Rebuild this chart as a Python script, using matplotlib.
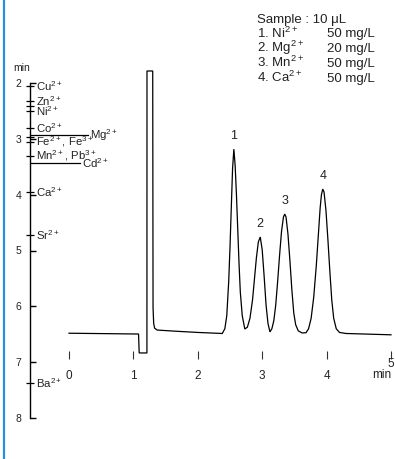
import matplotlib
matplotlib.use("Agg")
import matplotlib.pyplot as plt
from matplotlib.lines import Line2D
import matplotlib.transforms as mtransforms

plt.rcParams['font.family'] = ['Liberation Sans', 'DejaVu Sans']
plt.rcParams['mathtext.default'] = 'regular'

# chromatogram trace (time in min, signal in arbitrary units)
time = [0.00, 1.08, 1.09, 1.21, 1.211, 1.30, 1.305, 1.315, 1.33, 1.37, 1.70, 2.00, 2.38,
        2.42, 2.45, 2.48, 2.50, 2.52, 2.54, 2.56, 2.58, 2.60, 2.62, 2.64, 2.66, 2.69, 2.73,
        2.77, 2.81, 2.85, 2.88, 2.91, 2.94, 2.97, 3.00, 3.03, 3.06, 3.09, 3.12,
        3.15, 3.18, 3.21, 3.24, 3.27, 3.30, 3.33, 3.35, 3.37, 3.40, 3.43, 3.46, 3.49, 3.52,
        3.56, 3.62, 3.68,
        3.72, 3.76, 3.80, 3.84, 3.87, 3.90, 3.92, 3.94, 3.96, 3.99, 4.02, 4.05, 4.08, 4.11,
        4.15, 4.20, 4.30, 5.00]
signal = [0.3, 0.0, -7.2, -7.2, 100, 100, 10, 4, 2.2, 1.5, 1.0, 0.6, 0.2,
          2, 7, 20, 33, 48, 63, 70.3, 64, 53, 40, 27, 16, 7, 1.9,
          2.6, 6, 13, 21, 29, 35, 36.9, 32, 22, 11, 4, 0.8,
          2, 5, 11, 20, 30, 39, 44.5, 45.6, 44.5, 38, 28, 17, 8, 3.5,
          1.2, 0.4, 0.5,
          2, 6, 14, 26, 37, 48, 53, 55.1, 54, 47, 36, 24, 13, 6,
          2, 0.6, 0.2, -0.3]

peak_num = ["1", "2", "3", "4"]
peak_t = [2.56, 2.97, 3.35, 3.94]
peak_h = [70.3, 36.9, 45.6, 55.1]

# elution positions of ions (min)
ion_names = ["Cu$^{2+}$", "Zn$^{2+}$", "Ni$^{2+}$", "Co$^{2+}$", "Fe$^{2+}$, Fe$^{3+}$",
             "Mn$^{2+}$, Pb$^{3+}$", "Ca$^{2+}$", "Sr$^{2+}$", "Ba$^{2+}$"]
ion_t = [2.05, 2.33, 2.5, 2.8, 3.05, 3.3, 3.95, 4.72, 7.38]
extra_ticks = [2.42, 2.97]
long_names = ["Mg$^{2+}$", "Cd$^{2+}$"]
long_t = [2.93, 3.43]
long_len = [0.58, 0.50]

sample_ions = ["Ni", "Mg", "Mn", "Ca"]
sample_conc = ["50 mg/L", "20 mg/L", "50 mg/L", "50 mg/L"]

W, H = 395, 459
fig = plt.figure(figsize=(W / 100, H / 100), dpi=100)
txt = "#222222"

# chromatogram
ax = fig.add_axes([69 / W, 1 - 359 / H, 322 / W, 288 / H])
ax.plot(time, signal, color="black", lw=0.9, clip_on=False, solid_joinstyle="miter")
ax.set_xlim(0, 5)
ax.set_ylim(-9.5, 100)
for s in ax.spines.values():
    s.set_visible(False)
ax.set_yticks([])
ax.set_xticks(range(6))
ax.set_xticklabels(["0", "1", "2", "3", "4", ""])
ax.tick_params(axis="x", direction="in", length=6, width=0.8, color="#333333",
               labelsize=8.5, labelcolor=txt, pad=8)
tr = mtransforms.blended_transform_factory(ax.transData, fig.transFigure)
ax.text(5, 1 - 364 / H, "5", transform=tr, ha="center", va="center", fontsize=8.5, color=txt)
ax.text(5, 1 - 375 / H, "min", transform=tr, ha="right", va="center", fontsize=8.5, color=txt)
for n, t, h in zip(peak_num, peak_t, peak_h):
    ax.annotate(n, (t, h), xytext=(0, 7), textcoords="offset points",
                ha="center", va="baseline", fontsize=9, color=txt)

# elution scale on the left
ax2 = fig.add_axes([30 / W, 1 - 418 / H, 100 / W, 335 / H])
ax2.set_ylim(8, 2)
ax2.set_xlim(0, 1)
ax2.patch.set_alpha(0)
for k in ["top", "right", "bottom"]:
    ax2.spines[k].set_visible(False)
ax2.spines["left"].set_linewidth(1.0)
ax2.set_xticks([])
ax2.set_yticks(range(2, 9))
ax2.set_yticks(ion_t + extra_ticks, minor=True)
ax2.tick_params(axis="y", which="major", direction="in", length=4, width=1.0,
                labelsize=7.5, labelcolor=txt, pad=6)
ax2.tick_params(axis="y", which="minor", direction="inout", length=6, width=0.9)
ax2.text(-0.08, 1.03, "min", transform=ax2.transAxes, ha="center", va="bottom",
         fontsize=7.5, color=txt)
for name, t in zip(ion_names, ion_t):
    ax2.text(0.06, t, name, ha="left", va="center", fontsize=8.2, color=txt)
for name, t, ln in zip(long_names, long_t, long_len):
    ax2.plot([0, ln], [t, t], color="black", lw=0.9)
    ax2.text(ln + 0.02, t, name, ha="left", va="center", fontsize=8.2, color=txt)

# sample information
cols = [257, 327]
fig.text(cols[0] / W, 1 - 22.5 / H, "Sample : 10 μL", fontsize=9.5, color=txt, va="baseline")
for i, (ion, conc) in enumerate(zip(sample_ions, sample_conc)):
    y = 1 - (37.5 + 14.7 * i) / H
    fig.text(cols[0] / W, y, f"{i + 1}. {ion}$^{{2+}}$", fontsize=9.5, color=txt, va="baseline")
    fig.text(cols[1] / W, y, conc, fontsize=9.5, color=txt, va="baseline")

fig.add_artist(Line2D([4.2 / W, 4.2 / W], [0, 1], color="#2b8fd8", lw=1.6))

fig.savefig("out.png", dpi=100)
